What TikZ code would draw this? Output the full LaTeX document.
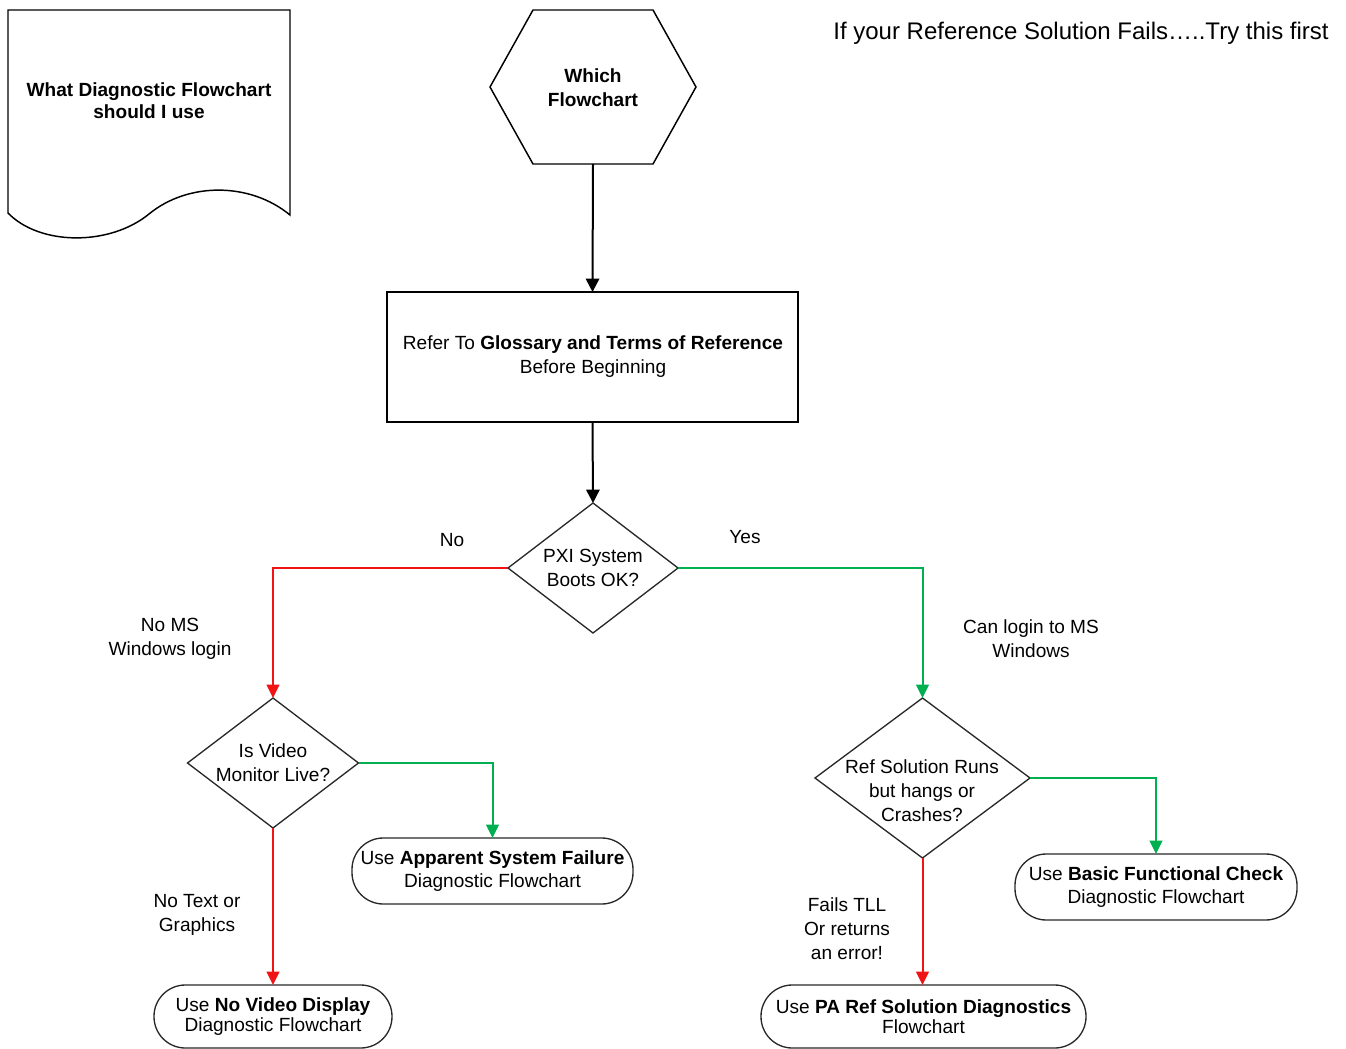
\documentclass[tikz,border=0pt]{standalone}
\usepackage{fontspec}
\setmainfont{Liberation Sans}
\usetikzlibrary{arrows.meta,shapes.geometric}
\definecolor{nored}{RGB}{240,20,20}
\definecolor{yesgreen}{RGB}{0,176,80}
\definecolor{outline}{RGB}{40,40,40}
\begin{document}
\begin{tikzpicture}[x=0.75pt,y=-0.75pt,
  sz/.style 2 args={minimum width=#1*0.75pt, minimum height=#2*0.75pt},
  txt/.style={align=center, inner sep=0pt, yshift=-1.5pt, font=\fontsize{14.3}{18}\selectfont},
  boxed/.style={draw=black, line width=1.1pt, rectangle, inner sep=0pt, outer sep=0pt},
  terminal/.style={draw=outline, line width=1pt, rectangle, rounded corners=23.5pt,
    inner sep=0pt, outer sep=0pt, align=center, font=\fontsize{14.3}{18}\selectfont},
  decision/.style={draw=outline, line width=1pt, diamond, inner sep=0pt, outer sep=0pt},
  flow/.style={line width=1.5pt, -{Triangle[length=10pt,width=10pt]}},
  noflow/.style={flow, draw=nored, -{Triangle[length=10pt,width=9.5pt,fill=nored]}},
  yesflow/.style={flow, draw=yesgreen, -{Triangle[length=10pt,width=9.5pt,fill=yesgreen]}}
]
\useasboundingbox (0,0) rectangle (1346,1049);

% document symbol, top left
\draw[draw=black, line width=1.1pt] (8,10) -- (290,10) -- (290,215)
  .. controls (250,182) and (188,182) .. (149,214)
  .. controls (110,246) and (40,246) .. (8,213) -- cycle;
\node[txt, font=\bfseries\fontsize{14.3}{16.5}\selectfont] (doc) at (149,99)
  {What Diagnostic Flowchart\\should I use};

% heading
\node[txt, font=\fontsize{18}{22}\selectfont] (head) at (1081,31)
  {If your Reference Solution Fails…..Try this first};

% start hexagon
\node[sz={206}{154}, inner sep=0pt, outer sep=0pt] (hex) at (593,87) {};
\draw[line width=1.1pt] (533,10) -- (653,10) -- (696,87) -- (653,164)
  -- (533,164) -- (490,87) -- cycle;
\node[txt, font=\bfseries\fontsize{14.3}{18}\selectfont] (hext) at (593,86) {Which\\Flowchart};

% glossary box
\node[boxed, sz={411}{130}] (refer) at (592.5,357) {};
\node[txt] (refert) at (593,355)
  {Refer To \textbf{Glossary and Terms of Reference}\\Before Beginning};

% decisions
\node[decision, sz={170}{130}] (pxi) at (593,568) {};
\node[txt] (pxit) at (593,566) {PXI System\\Boots OK?};

\node[decision, sz={171}{130}] (vid) at (273,763) {};
\node[txt] (vidt) at (273,761) {Is Video\\Monitor Live?};

\node[decision, sz={215}{160}] (ref) at (922.5,778) {};
\node[txt] (reft) at (922,789) {Ref Solution Runs\\but hangs or\\Crashes?};

% outcomes
\node[terminal, sz={281}{66}] (app) at (492.5,871)
  {Use \textbf{Apparent System Failure}\\[-1pt]Diagnostic Flowchart};
\node[terminal, sz={238}{63}] (novid) at (273,1016.5)
  {Use \textbf{No Video Display}\\[-3pt]Diagnostic Flowchart};
\node[terminal, sz={325}{63}] (pa) at (923.5,1016.5)
  {Use \textbf{PA Ref Solution Diagnostics}\\[-3pt]Flowchart};
\node[terminal, sz={282}{66}] (basic) at (1156,887)
  {Use \textbf{Basic Functional Check}\\[-1pt]Diagnostic Flowchart};

% main spine
\draw[flow] (hex.south) -- (refer.north);
\draw[flow] (refer.south) -- (pxi.north);

% branches
\draw[noflow] (pxi.west) -| (vid.north);
\draw[yesflow] (pxi.east) -| (ref.north);
\draw[yesflow] (vid.east) -| (app.north);
\draw[noflow] (vid.south) -- (novid.north);
\draw[yesflow] (ref.east) -| (basic.north);
\draw[noflow] (ref.south) -- (ref.south |- pa.north);

% branch labels
\node[txt] (lno) at (452,538) {No};
\node[txt] (lyes) at (745,535) {Yes};
\node[txt] (lnologin) at (170,637) {No MS\\Windows login};
\node[txt] (llogin) at (1031,637) {Can login to MS\\Windows};
\node[txt] (lnotext) at (197,913) {No Text or\\Graphics};
\node[txt] (lfails) at (847,927) {Fails TLL\\Or returns\\an error!};
\end{tikzpicture}
\end{document}
